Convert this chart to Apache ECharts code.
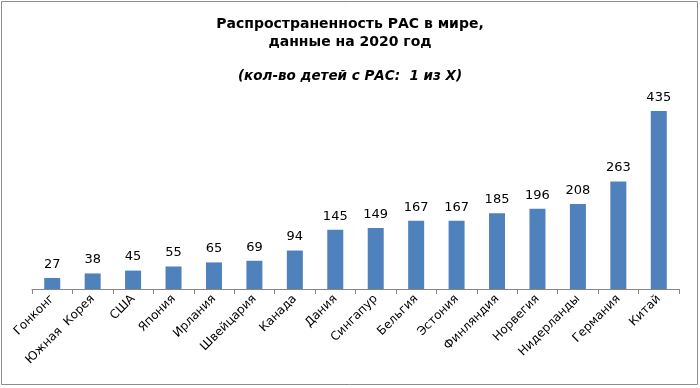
<!DOCTYPE html>
<html><head><meta charset="utf-8">
<script src="https://cdn.jsdelivr.net/npm/echarts@6/dist/echarts.min.js"></script>
<style>html,body{margin:0;padding:0;background:#fff}#c{width:700px;height:388px}</style>
</head><body><div id="c"></div>
<script>
const categories = ["Гонконг","Южная  Корея","США","Япония","Ирлания","Швейцария","Канада","Дания","Сингапур","Бельгия","Эстония","Финляндия","Норвегия","Нидерланды","Германия","Китай"];
const values = [27,38,45,55,65,69,94,145,149,167,167,185,196,208,263,435];
const titleLines = ["Распространенность РАС в мире,","данные на 2020 год"];
const subtitle = "(кол-во детей с РАС:  1 из X)";
const font = "'DejaVu Sans', Verdana, sans-serif";
const chart = echarts.init(document.getElementById('c'));
chart.setOption({
  animation:false,
  graphic:[{type:'rect',shape:{x:1.5,y:1.5,width:696,height:383},style:{fill:'none',stroke:'#8c8c8c',lineWidth:1}}],
  title:[
    {text:titleLines.join('\n'),left:'center',top:10,textStyle:{fontFamily:font,fontSize:14,fontWeight:'bold',color:'#000',lineHeight:18}},
    {text:subtitle,left:'center',top:64,textStyle:{fontFamily:font,fontSize:13.5,fontWeight:'bold',fontStyle:'italic',color:'#000'}}
  ],
  grid:{left:32,right:21,top:84.4,bottom:99},
  xAxis:{type:'category',data:categories,
    axisLine:{lineStyle:{color:'#868686'}},
    axisTick:{show:true,length:5,lineStyle:{color:'#868686'}},
    axisLabel:{rotate:45,interval:0,fontFamily:font,fontSize:12,color:'#000',margin:8}},
  yAxis:{type:'value',min:0,max:500,show:false,splitLine:{show:false}},
  series:[{type:'bar',data:values,barWidth:16,itemStyle:{color:'#4f81bd'},
    label:{show:true,position:'top',distance:7,fontFamily:font,fontSize:13,color:'#000'}}]
});
</script></body></html>
